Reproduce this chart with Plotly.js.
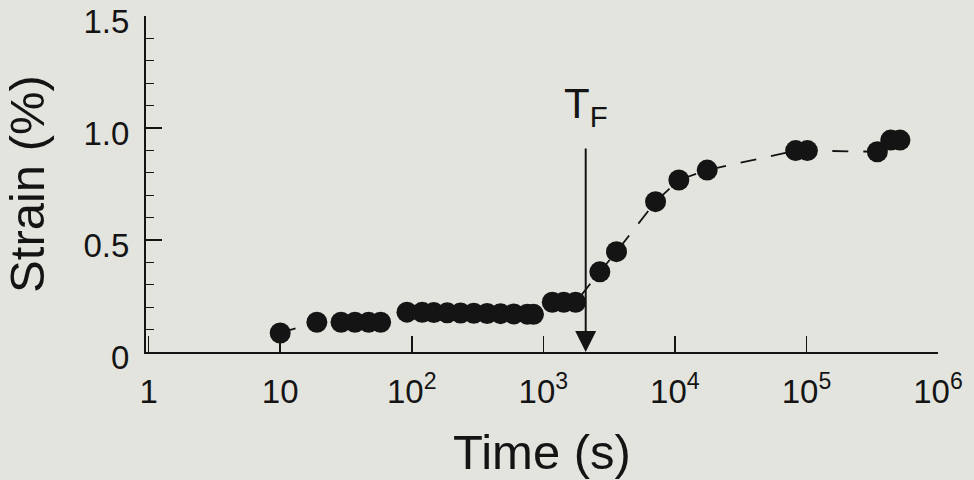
<!DOCTYPE html>
<html>
<head>
<meta charset="utf-8">
<script src="https://cdn.plot.ly/plotly-3.0.1.min.js"></script>
<style>
  html, body { margin: 0; padding: 0; background: #e4e4df; }
  #chart { width: 974px; height: 480px; }
</style>
</head>
<body>
<div id="chart"></div>
<script>
// ---- data ----
var timeS = [10, 19, 29, 37, 47, 58,
             92, 120, 147, 186, 235, 296, 374, 473, 597, 755, 842,
             1170, 1430, 1760,
             2690, 3600, 7130, 10720, 17600, 82800, 101600, 346000, 437000, 514000];
var strainPct = [0.085, 0.133, 0.133, 0.133, 0.133, 0.133,
                 0.178, 0.177, 0.176, 0.175, 0.174, 0.173, 0.172, 0.171, 0.170, 0.169, 0.168,
                 0.222, 0.222, 0.222,
                 0.358, 0.448, 0.671, 0.768, 0.812, 0.899, 0.899, 0.894, 0.946, 0.946];
var xTickVals = [1, 10, 100, 1000, 10000, 100000, 1000000];
var xTickText = ['1', '10', '10<sup>2</sup>', '10<sup>3</sup>', '10<sup>4</sup>', '10<sup>5</sup>', '10<sup>6</sup>'];
var yTickVals = [0, 0.5, 1.0, 1.5];
var yTickText = ['0', '0.5', '1.0', '1.5'];
var tF = 2100;            // failure time marked by the arrow
var tFLabel = 'T<sub>F</sub>';
var arrowTop = 0.915;     // strain level where the arrow starts

var ink = '#141414';
var fontFam = '"Liberation Sans", Arial, Helvetica, sans-serif';

var trace = {
  x: timeS, y: strainPct,
  type: 'scatter', mode: 'lines+markers',
  line: { color: ink, width: 1.8, dash: '16px,15px' },
  marker: { color: ink, size: 21 },
  hoverinfo: 'x+y'
};

var layout = {
  width: 974, height: 480,
  paper_bgcolor: '#e4e4df', plot_bgcolor: '#e4e4df',
  margin: { l: 146, r: 36, t: 16, b: 128 },
  showlegend: false,
  font: { family: fontFam, color: ink, size: 33 },
  xaxis: {
    type: 'log', range: [-0.02, 6],
    tickvals: xTickVals, ticktext: xTickText,
    ticks: 'inside', ticklen: 16, tickwidth: 1.5, tickcolor: ink,
    ticklabelstandoff: 9, ticklabeloverflow: 'allow',
    showline: true, linecolor: ink, linewidth: 2,
    showgrid: false, zeroline: false,
    tickfont: { size: 33, family: fontFam, color: ink },
    title: { text: 'Time (s)', font: { size: 49, family: fontFam, color: ink }, standoff: 26 },
    automargin: false
  },
  yaxis: {
    range: [0, 1.5],
    tickvals: yTickVals, ticktext: yTickText,
    ticks: 'inside', ticklen: 16, tickwidth: 1.5, tickcolor: ink,
    minor: { dtick: 0.1, ticks: 'inside', ticklen: 8, tickwidth: 1.2, tickcolor: ink },
    ticklabelstandoff: 8, ticklabelshift: 5, ticklabeloverflow: 'allow',
    showline: true, linecolor: ink, linewidth: 2,
    showgrid: false, zeroline: false,
    tickfont: { size: 33, family: fontFam, color: ink },
    title: { text: 'Strain (%)', font: { size: 49, family: fontFam, color: ink }, standoff: 31 },
    automargin: false
  },
  annotations: [
    {
      x: Math.log10(tF), y: 0, xref: 'x', yref: 'y',
      ax: Math.log10(tF), ay: arrowTop, axref: 'x', ayref: 'y',
      text: '', showarrow: true,
      arrowhead: 2, arrowsize: 2.1, arrowwidth: 2, arrowcolor: ink, standoff: 0
    },
    {
      x: Math.log10(tF), y: arrowTop, xref: 'x', yref: 'y',
      yanchor: 'bottom', xanchor: 'center', yshift: 12,
      text: tFLabel, showarrow: false,
      font: { size: 42, family: fontFam, color: ink }
    }
  ]
};

Plotly.newPlot('chart', [trace], layout, { displayModeBar: false, staticPlot: true });
</script>
</body>
</html>
